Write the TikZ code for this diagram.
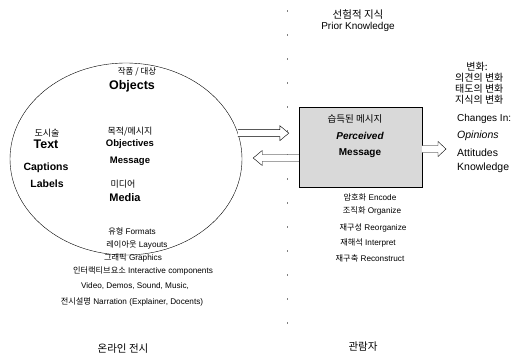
\documentclass[tikz,border=0pt]{standalone}
\usepackage{fontspec}
\setmainfont{Liberation Sans}
\newfontfamily\kor{Noto Sans CJK KR}
\usetikzlibrary{shapes.geometric}
\usetikzlibrary{calc}

% hollow block arrow: #1 tail, #2 tip, #3 signed head length
\newcommand{\fatarrow}[3]{%
  \draw[thin, fill=white] ($(#1)+(0,-3.5)$) -- ($(#2)+(#3,-3.5)$) -- ($(#2)+(#3,-7.5)$) -- (#2)
    -- ($(#2)+(#3,7.5)$) -- ($(#2)+(#3,3.5)$) -- ($(#1)+(0,3.5)$);}

\begin{document}
\begin{tikzpicture}[x=1pt,y=-1pt,
            head label/.style={font=\bfseries\fontsize{12.5}{14}\selectfont, inner sep=0pt},
            big label/.style={font=\bfseries\fontsize{10.5}{12}\selectfont, inner sep=0pt},
            mid label/.style={font=\fontsize{10.5}{12}\selectfont, inner sep=0pt},
            small label/.style={font=\fontsize{8.2}{10}\selectfont, inner sep=0pt},
            kor label/.style={font=\kor\fontsize{9}{11}\selectfont, inner sep=0pt},
            kor big/.style={font=\kor\fontsize{10.5}{12}\selectfont, inner sep=0pt},
            ]
            \useasboundingbox (0,0) rectangle (513,359);

            % divider
            \coordinate (div top) at (287,10);
            \coordinate (div bot) at (287,345);
            \draw[gray, dash pattern=on 2pt off 22pt] (div top) -- (div bot);

            % online exhibit
            \node[draw, thin, ellipse, minimum width=232pt, minimum height=192pt] (exhibit) at (126,159) {};
            \node[kor label, font=\kor\fontsize{8.5}{10}\selectfont] (objkr) at (137,72) {작품 / 대상};
            \node[head label] (objects) at (132,86) {Objects};
            \node[kor label] (textkr) at (47,133) {도시술};
            \node[head label] (text) at (46,144) {Text};
            \node[big label] (captions) at (46,168) {Captions};
            \node[big label] (labels) at (47,184) {Labels};
            \node[kor label] (objvkr) at (130,132) {목적/메시지};
            \node[big label, font=\bfseries\fontsize{9.5}{11}\selectfont] (objectives) at (130,144) {Objectives};
            \node[big label, font=\bfseries\fontsize{9.5}{11}\selectfont] (message) at (130,161) {Message};
            \node[kor label] (mediakr) at (123,184) {미디어};
            \node[big label, font=\bfseries\fontsize{11}{12}\selectfont] (media) at (125,198) {Media};
            \node[small label] (formats) at (132,231) {{\kor 유형} Formats};
            \node[small label] (layouts) at (137,245) {{\kor 레이아웃} Layouts};
            \node[small label] (graphics) at (133,258) {{\kor 그래픽} Graphics};
            \node[small label] (interact) at (143,271) {{\kor 인터랙티브요소} Interactive components};
            \node[small label] (video) at (135,286) {Video, Demos, Sound, Music,};
            \node[small label] (narration) at (132,302) {{\kor 전시설명} Narration (Explainer, Docents)};
            \node[kor big] (online) at (123,349) {온라인 전시};

            % visitor
            \node[kor big] (priorkr) at (358,15) {선험적 지식};
            \node[mid label, font=\fontsize{10}{12}\selectfont] (prior) at (358,27) {Prior Knowledge};
            \node[draw, thin, fill=gray!30, minimum width=123pt, minimum height=80pt, inner sep=0pt] (percept) at (360.5,147) {};
            \node[kor label, font=\kor\fontsize{9.5}{11}\selectfont] (perckr) at (355,119) {습득된 메시지};
            \node[big label, font=\bfseries\itshape\fontsize{10}{12}\selectfont] (perceived) at (360,136) {Perceived};
            \node[big label, font=\bfseries\fontsize{10}{12}\selectfont] (pmessage) at (360,153) {Message};
            \node[small label] (encode) at (370,197) {{\kor 암호화} Encode};
            \node[small label] (organize) at (372,211) {{\kor 조직화} Organize};
            \node[small label] (reorganize) at (373,228) {{\kor 재구성} Reorganize};
            \node[small label] (interpret) at (368,243) {{\kor 재해석} Interpret};
            \node[small label] (reconstruct) at (370,258) {{\kor 재구축} Reconstruct};
            \node[kor big] (visitor) at (363,347) {관람자};

            % changes
            \node[kor big, font=\kor\fontsize{10}{11}\selectfont] (chgkr) at (477,67) {변화:};
            \node[kor big, font=\kor\fontsize{10}{11}\selectfont, anchor=west] (opkr) at (455,78) {의견의 변화};
            \node[kor big, font=\kor\fontsize{10}{11}\selectfont, anchor=west] (atkr) at (455,89) {태도의 변화};
            \node[kor big, font=\kor\fontsize{10}{11}\selectfont, anchor=west] (knkr) at (455,100) {지식의 변화};
            \node[mid label, anchor=west, font=\fontsize{10}{12}\selectfont] (changes) at (457,119) {Changes In:};
            \node[mid label, anchor=west, font=\itshape\fontsize{10.5}{12}\selectfont] (opinions) at (457,136) {Opinions};
            \node[mid label, anchor=west] (attitudes) at (457,153) {Attitudes};
            \node[mid label, anchor=west] (knowledge) at (457,168) {Knowledge};

            % arrows
            \coordinate (out tip) at ($(exhibit.13 -| percept.west)+(-10,0)$);
            \coordinate (back tail) at ([yshift=-11pt]percept.west);
            \coordinate (back tip) at ($(exhibit.east)+(11,-1)$);
            \coordinate (chg tail) at ([yshift=-2pt]percept.east);
            \coordinate (chg tip) at (446,149);
            \fatarrow{exhibit.13}{out tip}{-9}
            \fatarrow{back tail}{back tip}{9}
            \fatarrow{chg tail}{chg tip}{-8}
        \end{tikzpicture}
\end{document}
